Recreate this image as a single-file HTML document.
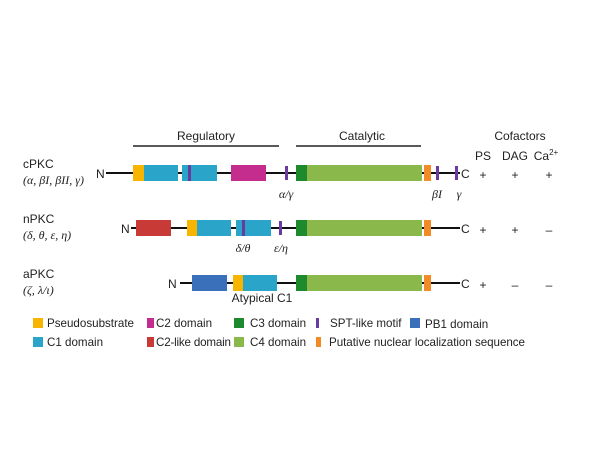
<!DOCTYPE html>
<html><head><meta charset="utf-8"><style>
body{margin:0;background:#fff;}
svg text{font-family:"Liberation Sans",sans-serif;font-size:12px;fill:#222;}
.it{font-family:"Liberation Serif",serif;font-style:italic;font-size:12px;}
.lg{font-size:11.6px;}
</style></head><body>
<svg width="600" height="450" xmlns="http://www.w3.org/2000/svg">
<text x="206" y="140" text-anchor="middle">Regulatory</text>
<line x1="133" y1="146" x2="279" y2="146" stroke="#222" stroke-width="1.5"/>
<text x="362" y="140" text-anchor="middle">Catalytic</text>
<line x1="296" y1="146" x2="421" y2="146" stroke="#222" stroke-width="1.5"/>
<text x="520" y="140" text-anchor="middle">Cofactors</text>
<text x="483" y="160" text-anchor="middle">PS</text>
<text x="515" y="160" text-anchor="middle">DAG</text>
<text x="546" y="160" text-anchor="middle">Ca<tspan font-size="8" dy="-5">2+</tspan></text>

<text x="23" y="168">cPKC</text>
<text x="23" y="184" class="it">(α, βI, βII, γ)</text>
<text x="23" y="223">nPKC</text>
<text x="23" y="239" class="it">(δ, θ, ε, η)</text>
<text x="23" y="278">aPKC</text>
<text x="23" y="294" class="it">(ζ, λ/ι)</text>

<text x="96" y="178">N</text>
<line x1="106" y1="173" x2="460" y2="173" stroke="#111" stroke-width="2"/>
<rect x="133" y="165" width="11" height="16" fill="#f7b500"/>
<rect x="144" y="165" width="34" height="16" fill="#2aa4c8"/>
<rect x="182" y="165" width="35" height="16" fill="#2aa4c8"/>
<rect x="188" y="165" width="3" height="16" fill="#6a3aa0"/>
<rect x="231" y="165" width="35" height="16" fill="#c42c8e"/>
<rect x="285" y="166" width="3" height="14" fill="#6a3aa0"/>
<rect x="296" y="165" width="11" height="16" fill="#1e8a2e"/>
<rect x="307" y="165" width="115" height="16" fill="#8ab84a"/>
<rect x="424" y="165" width="7" height="16" fill="#f28a26"/>
<rect x="436" y="166" width="3" height="14" fill="#6a3aa0"/>
<rect x="455" y="166" width="3" height="14" fill="#6a3aa0"/>
<text x="461" y="178">C</text>
<text x="286" y="198" class="it" text-anchor="middle">α/γ</text>
<text x="437" y="198" class="it" text-anchor="middle">βI</text>
<text x="459" y="198" class="it" text-anchor="middle">γ</text>
<text x="483" y="179" text-anchor="middle" font-size="14">+</text>
<text x="515" y="179" text-anchor="middle" font-size="14">+</text>
<text x="549" y="179" text-anchor="middle" font-size="14">+</text>

<text x="121" y="233">N</text>
<line x1="131" y1="228" x2="460" y2="228" stroke="#111" stroke-width="2"/>
<rect x="136" y="220" width="35" height="16" fill="#c83a36"/>
<rect x="187" y="220" width="10" height="16" fill="#f7b500"/>
<rect x="197" y="220" width="34" height="16" fill="#2aa4c8"/>
<rect x="236" y="220" width="35" height="16" fill="#2aa4c8"/>
<rect x="242" y="220" width="3" height="16" fill="#6a3aa0"/>
<rect x="279" y="221" width="3" height="14" fill="#6a3aa0"/>
<rect x="296" y="220" width="11" height="16" fill="#1e8a2e"/>
<rect x="307" y="220" width="115" height="16" fill="#8ab84a"/>
<rect x="424" y="220" width="7" height="16" fill="#f28a26"/>
<text x="461" y="233">C</text>
<text x="243" y="252" class="it" text-anchor="middle">δ/θ</text>
<text x="281" y="252" class="it" text-anchor="middle">ε/η</text>
<text x="483" y="234" text-anchor="middle" font-size="14">+</text>
<text x="515" y="234" text-anchor="middle" font-size="14">+</text>
<text x="549" y="234" text-anchor="middle" font-size="14">–</text>

<text x="168" y="288">N</text>
<line x1="180" y1="283" x2="460" y2="283" stroke="#111" stroke-width="2"/>
<rect x="192" y="275" width="35" height="16" fill="#3a6fba"/>
<rect x="233" y="275" width="10" height="16" fill="#f7b500"/>
<rect x="243" y="275" width="34" height="16" fill="#2aa4c8"/>
<rect x="296" y="275" width="11" height="16" fill="#1e8a2e"/>
<rect x="307" y="275" width="115" height="16" fill="#8ab84a"/>
<rect x="424" y="275" width="7" height="16" fill="#f28a26"/>
<text x="461" y="288">C</text>
<text x="262" y="302" text-anchor="middle">Atypical C1</text>
<text x="483" y="289" text-anchor="middle" font-size="14">+</text>
<text x="515" y="289" text-anchor="middle" font-size="14">–</text>
<text x="549" y="289" text-anchor="middle" font-size="14">–</text>

<rect x="33" y="318" width="10" height="10" fill="#f7b500"/><text class="lg" x="47" y="327">Pseudosubstrate</text>
<rect x="147" y="318" width="7" height="10" fill="#c42c8e"/><text class="lg" x="156" y="327">C2 domain</text>
<rect x="234" y="318" width="10" height="10" fill="#1e8a2e"/><text class="lg" x="250" y="327">C3 domain</text>
<rect x="316" y="318" width="3" height="10" fill="#6a3aa0"/><text class="lg" x="330" y="327">SPT-like motif</text>
<rect x="410" y="318" width="10" height="10" fill="#3a6fba"/><text class="lg" x="425" y="328">PB1 domain</text>
<rect x="33" y="337" width="10" height="10" fill="#2aa4c8"/><text class="lg" x="47" y="346">C1 domain</text>
<rect x="147" y="337" width="7" height="10" fill="#c83a36"/><text class="lg" x="156" y="346" textLength="75">C2-like domain</text>
<rect x="234" y="337" width="10" height="10" fill="#8ab84a"/><text class="lg" x="250" y="346">C4 domain</text>
<rect x="316" y="337" width="5" height="10" fill="#f28a26"/><text class="lg" x="329" y="346" textLength="196">Putative nuclear localization sequence</text>
</svg>
</body></html>
